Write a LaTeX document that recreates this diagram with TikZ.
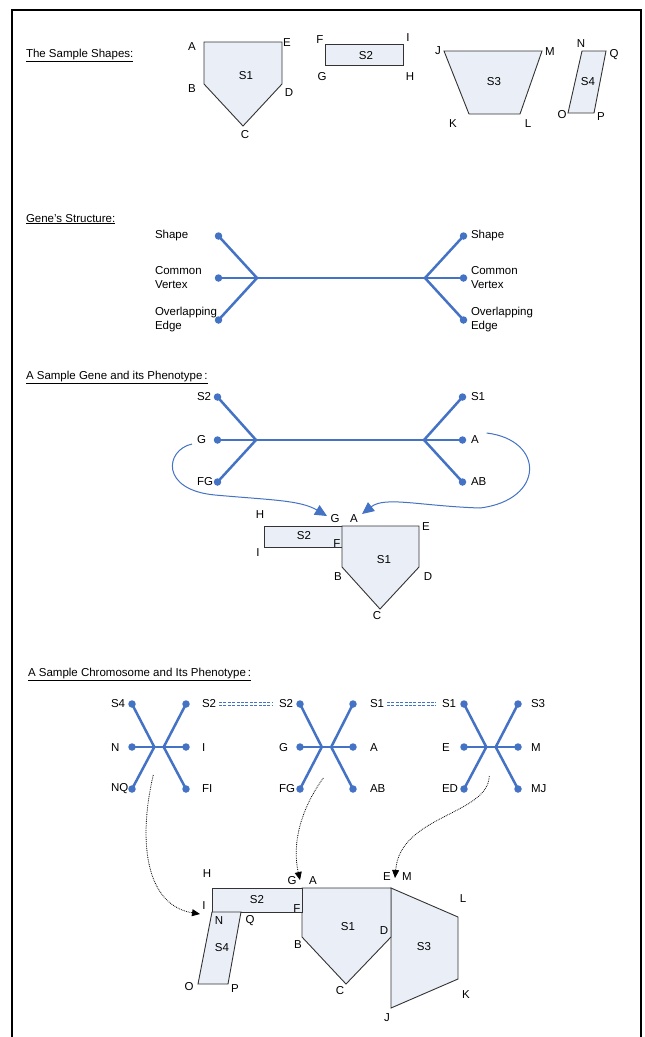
\documentclass[tikz,border=0pt]{standalone}
\usepackage{fontspec}
\setmainfont{Liberation Sans}
\usetikzlibrary{arrows.meta}
\definecolor{geneblue}{HTML}{4472C4}
\definecolor{shapefill}{HTML}{EAEFF7}
\definecolor{shapeline}{HTML}{333333}

\begin{document}
\begin{tikzpicture}[x=1pt,y=-1pt,
  every node/.style={font=\fontsize{11.5}{14}\selectfont, inner sep=0pt, outer sep=0pt},
  heading/.style={anchor=base west},
  shp/.style={draw=shapeline, fill=shapefill, line width=0.9pt, line join=miter},
  gline/.style={draw=geneblue, line width=2.5pt},
  gdot/.style={circle, fill=geneblue, minimum size=7.5pt},
  glabel/.style={anchor=west, align=left},
  bluearrow/.style={draw=geneblue, line width=1pt, -{Triangle[length=12pt,width=11pt]}},
  dotarrow/.style={draw=black, line width=0.8pt, dash pattern=on 0.8pt off 1pt, -{Triangle[length=8pt,width=7pt]}},
  dashlink/.style={draw=geneblue, line width=1.2pt, double=white, double distance=1.6pt,
                   dash pattern=on 3pt off 1.4pt, shorten <=3pt, shorten >=6pt},
  pics/gene/.style n args={4}{code={
    % #1: half distance between dot columns, #2: half distance between junctions,
    % #3: upward arm spread, #4: downward arm spread
    \coordinate (-jl) at (-#2,0);
    \coordinate (-jr) at (#2,0);
    \coordinate (-pl1) at (-#1,-#3);
    \coordinate (-pl2) at (-#1,0);
    \coordinate (-pl3) at (-#1,#4);
    \coordinate (-pr1) at (#1,-#3);
    \coordinate (-pr2) at (#1,0);
    \coordinate (-pr3) at (#1,#4);
    \draw[gline] (-pl1) -- (-jl) -- (-pl3);
    \draw[gline] (-pr1) -- (-jr) -- (-pr3);
    \draw[gline] (-pl2) -- (-pr2);
    \node[gdot] (-l1) at (-pl1) {};
    \node[gdot] (-l2) at (-pl2) {};
    \node[gdot] (-l3) at (-pl3) {};
    \node[gdot] (-r1) at (-pr1) {};
    \node[gdot] (-r2) at (-pr2) {};
    \node[gdot] (-r3) at (-pr3) {};
  }}
]
\useasboundingbox (0,0) rectangle (645,1037);
\fill[white] (0,0) rectangle (645,1037);

% page frame (open at the bottom)
\draw[line width=2pt] (12,1037) -- (12,10) -- (641,10) -- (641,1037);

% ---------------- The sample shapes ----------------
\node[heading] (h1) at (26,57) {\underline{The Sample Shapes:}};

\coordinate (a1) at (204,42);  \coordinate (e1) at (282,42);
\coordinate (d1) at (282,84);  \coordinate (c1) at (243,126);
\coordinate (b1) at (204,84);
\draw[shp] (a1) -- (e1) -- (d1) -- (c1) -- (b1) -- cycle;
\node (s1n) at (246,76) {S1};
\node (la1) at (192,47) {A};
\node (le1) at (287,43) {E};
\node (lb1) at (192,89) {B};
\node (ld1) at (289,93) {D};
\node (lc1) at (245,135) {C};

\coordinate (f1) at (325,44);  \coordinate (i1) at (403,44);
\coordinate (hh1) at (403,65); \coordinate (g1) at (325,65);
\draw[shp] (f1) -- (i1) -- (hh1) -- (g1) -- cycle;
\node (s2n) at (366,56) {S2};
\node (lf1) at (320,40) {F};
\node (li1) at (408,38) {I};
\node (lg1) at (322,77) {G};
\node (lh1) at (410,77) {H};

\coordinate (j1) at (444,51);  \coordinate (m1) at (542,51);
\coordinate (l1) at (520,114); \coordinate (k1) at (469,114);
\draw[shp] (j1) -- (m1) -- (l1) -- (k1) -- cycle;
\node (s3n) at (494,82) {S3};
\node (lj1) at (438,51) {J};
\node (lm1) at (550,52) {M};
\node (lk1) at (453,124) {K};
\node (ll1) at (528,124) {L};

\coordinate (n1) at (582,51);  \coordinate (q1) at (606,51);
\coordinate (p1) at (594,113); \coordinate (o1) at (568,113);
\draw[shp] (n1) -- (q1) -- (p1) -- (o1) -- cycle;
\node (s4n) at (588,82) {S4};
\node (ln1) at (581,44) {N};
\node (lq1) at (614,55) {Q};
\node (lo1) at (562,115) {O};
\node (lp1) at (601,117) {P};

% ---------------- Gene's structure ----------------
\node[heading] (h2) at (26,222) {\underline{Gene's Structure:}};
\pic (gs) at (341,278) {gene={122.5}{84}{42}{42}};
\node[glabel] (gsl1) at (155,236) {Shape};
\node[glabel] (gsl2) at (155,278) {Common\\Vertex};
\node[glabel] (gsl3) at (155,320) {Overlapping\\Edge};
\node[glabel] (gsr1) at (471,236) {Shape};
\node[glabel] (gsr2) at (471,278) {Common\\Vertex};
\node[glabel] (gsr3) at (471,320) {Overlapping\\Edge};

% ---------------- A sample gene and its phenotype ----------------
\node[heading] (h3) at (26,379) {\underline{A Sample Gene and its Phenotype\,:}};
\pic (sg) at (340,440) {gene={122.5}{84}{43}{42}};
\node[glabel] (sgl1) at (197,397) {S2};
\node[glabel] (sgl2) at (197,440) {G};
\node[glabel] (sgl3) at (197,482) {FG};
\node[glabel] (sgr1) at (471,397) {S1};
\node[glabel] (sgr2) at (471,440) {A};
\node[glabel] (sgr3) at (471,482) {AB};

% phenotype: S2 glued to S1
\coordinate (ph2h) at (264,526); \coordinate (ph2g) at (342,526);
\coordinate (ph2f) at (342,547); \coordinate (ph2i) at (264,547);
\coordinate (ph1a) at (342,526); \coordinate (ph1e) at (419,526);
\coordinate (ph1d) at (419,567); \coordinate (ph1c) at (380,609);
\coordinate (ph1b) at (342,567);
\draw[shp] (ph2h) -- (ph2g) -- (ph2f) -- (ph2i) -- cycle;
\draw[shp] (ph1a) -- (ph1e) -- (ph1d) -- (ph1c) -- (ph1b) -- cycle;
\node (p3s2) at (304,536) {S2};
\node (p3s1) at (384,560) {S1};
\node (p3H) at (260,515) {H};
\node (p3G) at (335,519) {G};
\node (p3A) at (354,519) {A};
\node (p3E) at (426,527) {E};
\node (p3F) at (337,544) {F};
\node (p3I) at (258,553) {I};
\node (p3B) at (338,577) {B};
\node (p3D) at (428,577) {D};
\node (p3C) at (377,616) {C};

\coordinate (tipG) at (327,516);
\coordinate (tipA) at (362,514);
\draw[bluearrow] ([shift={(-5,4)}]sgl2.west) .. controls (165,450) and (160,490) .. (215,495)
  .. controls (270,500) and (300,500) .. (tipG);
\draw[bluearrow] ([shift={(8,-7)}]sgr2.east) .. controls (545,440) and (545,500) .. (480,508)
  .. controls (420,506) and (385,496) .. (tipA);

% ---------------- A sample chromosome and its phenotype ----------------
\node[heading] (h4) at (28,676) {\underline{A Sample Chromosome and Its Phenotype\,:}};

\pic (ca) at (159,747) {gene={27}{4.7}{43}{42}};
\pic (cb) at (326.5,747) {gene={26.5}{4.7}{43}{42}};
\pic (cc) at (491,747) {gene={27}{4.7}{43}{42}};

\node[glabel] (cal1) at (111,704) {S4};
\node[glabel] (cal2) at (111,748) {N};
\node[glabel] (cal3) at (111,789) {NQ};
\node[glabel] (car1) at (202,704) {S2};
\node[glabel] (car2) at (202,748) {I};
\node[glabel] (car3) at (202,789) {FI};

\node[glabel] (cbl1) at (279,704) {S2};
\node[glabel] (cbl2) at (279,748) {G};
\node[glabel] (cbl3) at (279,789) {FG};
\node[glabel] (cbr1) at (370,704) {S1};
\node[glabel] (cbr2) at (370,748) {A};
\node[glabel] (cbr3) at (370,789) {AB};

\node[glabel] (ccl1) at (442,704) {S1};
\node[glabel] (ccl2) at (442,748) {E};
\node[glabel] (ccl3) at (442,789) {ED};
\node[glabel] (ccr1) at (531,704) {S3};
\node[glabel] (ccr2) at (531,748) {M};
\node[glabel] (ccr3) at (531,789) {MJ};

\draw[dashlink] (car1.east) -- (cbl1.west);
\draw[dashlink] (cbr1.east) -- (ccl1.west);

% phenotype of the chromosome
\coordinate (q3j) at (391,1008); \coordinate (q3k) at (458,979);
\coordinate (q3l) at (458,917);  \coordinate (q3m) at (391,888);
\draw[shp] (q3m) -- (q3l) -- (q3k) -- (q3j) -- cycle;
\coordinate (q1a) at (302,888);  \coordinate (q1e) at (391,888);
\coordinate (q1d) at (391,937);  \coordinate (q1c) at (346,984);
\coordinate (q1b) at (302,937);
\draw[shp] (q1a) -- (q1e) -- (q1d) -- (q1c) -- (q1b) -- cycle;
\coordinate (q2h) at (212,888);  \coordinate (q2g) at (302,888);
\coordinate (q2f) at (302,912);  \coordinate (q2i) at (212,912);
\draw[shp] (q2h) -- (q2g) -- (q2f) -- (q2i) -- cycle;
\coordinate (q4n) at (212,912);  \coordinate (q4q) at (241,912);
\coordinate (q4p) at (228,984);  \coordinate (q4o) at (198,984);
\draw[shp] (q4n) -- (q4q) -- (q4p) -- (q4o) -- cycle;

\node (q2s) at (257,900) {S2};
\node (q1s) at (348,927) {S1};
\node (q3s) at (424,947) {S3};
\node (q4s) at (222,948) {S4};
\node (p4H) at (207,874) {H};
\node (p4I) at (204,906) {I};
\node (p4G) at (292,881) {G};
\node (p4A) at (313,881) {A};
\node (p4E) at (387,877) {E};
\node (p4M) at (407,877) {M};
\node (p4L) at (463,899) {L};
\node (p4F) at (297,909) {F};
\node (p4N) at (219,921) {N};
\node (p4Q) at (250,921) {Q};
\node (p4D) at (384,931) {D};
\node (p4B) at (298,945) {B};
\node (p4O) at (189,987) {O};
\node (p4P) at (235,989) {P};
\node (p4C) at (340,991) {C};
\node (p4K) at (466,995) {K};
\node (p4J) at (387,1018) {J};

\coordinate (tip1) at (200,914);
\coordinate (tip2) at (300,880);
\coordinate (tip3) at (395,878);
\draw[dotarrow] ([shift={(-1,28)}]ca-jl) .. controls (138,840) and (145,905) .. (tip1);
\draw[dotarrow] ([shift={(1.5,31)}]cb-jl) .. controls (300,810) and (292,845) .. (tip2);
\draw[dotarrow] ([shift={(3,29)}]cc-jl) .. controls (488,815) and (400,815) .. (tip3);
\end{tikzpicture}
\end{document}
